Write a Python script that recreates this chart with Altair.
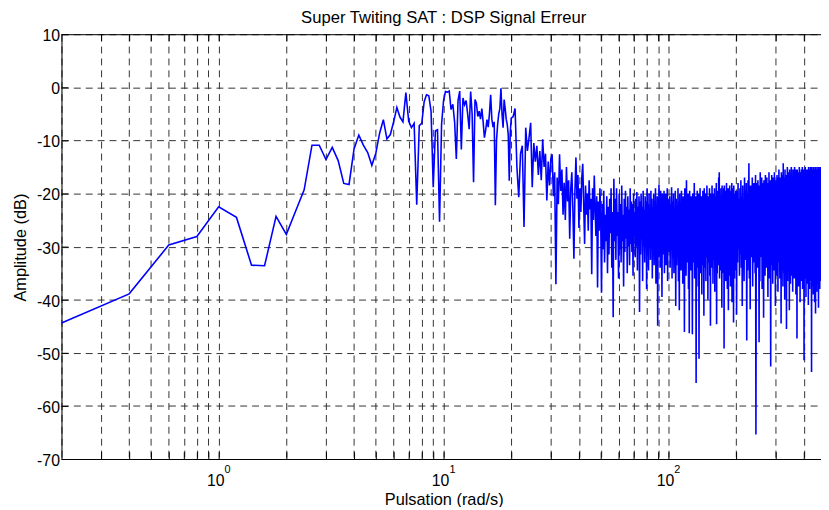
import altair as alt
import pandas as pd

# ---------------- data ----------------
# segment A: 0.2 .. 10.0 rad/s, step 0.2
seg_a_start, seg_a_step = 0.2, 0.2
seg_a_db = [-44.4, -38.9, -29.7, -28.1, -22.5, -24.5, -33.5, -33.6, -24.3, -27.7,
            -23.3, -19.3, -10.9, -10.9, -13.6, -11.3, -13.8, -18.1, -18.3, -11.6,
            -9.0, -10.9, -12.3, -14.7, -12.4, -8.6, -6.1, -9.7, -8.9, -6.5,
            -3.8, -5.6, -6.5, -1.0, -6.4, -7.6, -6.8, -22.1, -7.2, -6.8,
            -2.7, -1.4, -1.6, -4.5, -18.8, -8.2, -8.0, -25.3, -7.0, -2.5]
# segment B: 10.2 .. 20.0 rad/s, step 0.2
seg_b_start, seg_b_step = 10.2, 0.2
seg_b_db = [-0.8, -0.9, -0.7, -4.2, -3.2, -6.5, -13.5, -2.5, -0.7, -11.7,
            -2.0, -3.3, -2.5, -5.0, -7.9, -0.8, -5.0, -17.9, -2.3, -3.0,
            -5.5, -4.5, -6.0, -4.0, -6.5, -9.5, -8.0, -6.1, -7.5, -5.0,
            -1.4, -6.0, -7.5, -6.5, -22.2, -10.0, -7.0, -5.0, -4.0, -0.2,
            -5.0, -7.6, -2.3, -4.0, -6.0, -7.0, -9.0, -17.6, -8.5, -5.8]
# segment C: 20.4 .. 50.0 rad/s, step 0.4
seg_c_start, seg_c_step = 20.4, 0.4
seg_c_db = [-5.5, -4.0, -15.1, -20.7, -12.5, -11.0, -26.3, -7.6, -12.0, -9.5,
            -6.7, -18.8, -10.5, -14.0, -11.0, -16.5, -12.0, -17.5, -9.8, -15.0,
            -12.5, -21.3, -14.0, -18.5, -13.5, -12.6, -20.5, -16.0, -37.1, -17.0,
            -22.0, -12.6, -19.5, -15.5, -24.0, -18.0, -25.0, -15.0, -21.5, -17.5,
            -28.5, -19.0, -16.0, -23.0, -32.3, -19.5, -13.2, -21.0, -16.5, -26.5,
            -19.0, -23.5, -17.0, -14.4, -22.0, -29.5, -18.5, -24.0, -20.0, -27.0,
            -17.5, -23.0, -21.0, -35.2, -19.0, -25.0, -16.6, -22.5, -28.0, -20.5,
            -37.7, -21.5, -27.0, -19.0, -24.5]
# segment D: 50.4 .. 100.4 rad/s, step 0.4
seg_d_start, seg_d_step = 50.4, 0.4
seg_d_db = [-38.7, -22.0, -30.5, -19.5, -33.0, -24.0, -29.0, -20.5, -35.0, -22.5,
            -31.5, -21.0, -27.5, -19.0, -34.0, -23.5, -43.3, -17.2, -29.0, -21.0,
            -32.5, -19.0, -28.0, -23.5, -36.0, -20.0, -30.5, -22.0, -33.0, -18.5,
            -29.0, -24.0, -37.5, -21.0, -31.0, -19.5, -28.5, -22.5, -35.0, -20.5,
            -30.0, -23.0, -33.5, -19.0, -29.5, -21.5, -31.0, -22.0, -35.5, -20.0,
            -28.0, -23.5, -32.0, -21.0, -30.0, -19.7, -34.5, -22.5, -29.0, -20.5,
            -42.3, -21.5, -31.5, -20.0, -28.5, -22.5, -36.5, -19.5, -30.0, -23.0,
            -33.0, -20.5, -29.5, -21.5, -38.0, -19.0, -31.0, -22.0, -34.5, -20.0,
            -28.5, -23.5, -32.5, -19.5, -30.0, -21.0, -36.0, -22.5, -29.0, -20.0,
            -33.5, -21.5, -31.0, -19.0, -37.0, -22.0, -29.5, -20.5, -44.9, -21.0,
            -32.0, -18.3, -30.5, -22.5, -34.0, -19.5, -29.0, -21.5, -39.5, -20.0,
            -31.5, -23.0, -28.5, -19.5, -35.0, -21.5, -30.0, -20.0, -33.5, -22.0,
            -29.5, -19.0, -36.5, -21.0, -31.0, -22.5]
# segment E: 100.8 .. 200.3 rad/s, step 0.5
seg_e_start, seg_e_step = 100.8, 0.5
seg_e_db = [-31.0, -20.5, -34.0, -22.0, -29.5, -18.8, -36.0, -21.5, -32.0, -20.0,
            -35.0, -23.0, -30.5, -19.5, -41.2, -21.0, -33.5, -22.5, -30.0, -19.0,
            -36.5, -21.5, -42.0, -20.0, -31.5, -23.5, -34.5, -19.5, -29.5, -21.0,
            -37.0, -20.5, -32.0, -22.0, -46.1, -19.0, -30.5, -21.5, -35.5, -17.5,
            -31.0, -22.5, -33.0, -20.0, -38.0, -21.0, -46.3, -19.5, -30.0, -22.0,
            -34.5, -20.5, -31.5, -23.0, -46.5, -20.0, -33.0, -21.5, -29.5, -18.0,
            -36.0, -22.0, -31.0, -20.5, -55.7, -21.0, -34.0, -19.5, -30.5, -22.5,
            -37.5, -20.0, -51.1, -21.5, -32.5, -19.0, -35.0, -22.0, -30.0, -20.5,
            -39.0, -21.0, -33.5, -19.5, -31.0, -22.5, -43.0, -19.0, -34.0, -21.5,
            -30.5, -20.0, -36.5, -22.0, -32.0, -18.5, -29.5, -21.0, -40.0, -20.5,
            -33.0, -22.5, -30.5, -19.0, -35.5, -21.5, -44.9, -20.0, -31.5, -22.0,
            -34.0, -18.5, -30.0, -21.0, -37.0, -20.0, -32.5, -22.5, -29.0, -19.0,
            -38.5, -21.5, -33.0, -20.5, -30.5, -18.0, -44.6, -21.0, -35.0, -19.5,
            -31.0, -22.0, -33.5, -17.0, -29.5, -16.0, -36.0, -20.5, -31.5, -22.0,
            -34.5, -19.0, -30.0, -21.5, -41.5, -18.5, -32.5, -20.5, -35.0, -22.0,
            -29.5, -19.0, -49.2, -18.5, -33.5, -21.0, -30.5, -19.5, -36.5, -22.5,
            -31.0, -18.0, -34.0, -20.5, -38.0, -21.5, -30.0, -19.0, -42.0, -20.0,
            -32.5, -22.0, -35.5, -18.5, -29.5, -21.0, -37.5, -19.5, -31.0, -22.5,
            -33.5, -18.0, -40.5, -20.5, -30.5, -21.5, -34.0, -19.0, -44.3, -18.5,
            -31.5, -21.0, -36.0, -20.0, -29.5, -22.0, -34.5, -19.5, -32.0, -20.5]
# segment F: 201 .. 476 rad/s, step 1.0
seg_f_start, seg_f_step = 201.0, 1.0
seg_f_db = [-42.8, -19.5, -33.0, -18.0, -30.5, -21.0, -35.5, -19.0, -31.5, -17.5,
            -34.0, -20.5, -41.2, -18.5, -30.0, -21.5, -36.5, -17.0, -32.5, -19.5,
            -29.5, -18.0, -47.7, -20.0, -34.5, -17.5, -31.0, -14.3, -36.0, -19.0,
            -41.8, -18.5, -32.0, -21.0, -30.5, -17.0, -37.5, -19.5, -33.0, -18.0,
            -29.5, -20.5, -35.0, -16.5, -65.4, -18.0, -31.5, -20.0, -34.0, -17.5,
            -30.0, -19.0, -48.0, -18.5, -36.5, -16.0, -32.0, -20.5, -29.5, -17.0,
            -38.0, -19.5, -33.5, -18.0, -43.4, -17.5, -30.5, -20.0, -35.5, -16.5,
            -31.0, -19.0, -34.0, -17.0, -29.5, -20.5, -39.5, -18.0, -32.5, -16.0,
            -36.0, -19.5, -30.0, -17.5, -52.6, -18.5, -33.5, -16.5, -31.0, -20.0,
            -37.0, -17.0, -29.5, -18.5, -34.5, -16.0, -32.0, -19.0, -41.2, -17.5,
            -30.5, -18.0, -35.5, -16.5, -31.5, -19.5, -38.5, -17.0, -33.0, -15.5,
            -29.5, -18.5, -36.0, -17.0, -32.0, -19.0, -44.5, -16.0, -34.5, -18.0,
            -30.0, -16.5, -37.5, -14.3, -31.0, -18.5, -35.0, -17.0, -40.0, -15.5,
            -32.5, -18.0, -30.0, -16.5, -45.5, -17.5, -33.5, -15.0, -36.5, -19.0,
            -31.0, -16.0, -34.0, -17.5, -42.0, -15.5, -30.5, -18.0, -37.0, -16.5,
            -32.0, -15.0, -35.5, -17.0, -29.5, -18.5, -38.5, -15.5, -33.0, -16.0,
            -31.5, -17.5, -36.0, -15.0, -34.5, -18.0, -30.0, -16.5, -39.0, -15.5,
            -32.5, -17.0, -47.3, -15.5, -35.0, -18.0, -31.0, -16.0, -37.5, -17.0,
            -33.5, -15.0, -30.5, -17.5, -40.5, -16.0, -34.0, -18.0, -31.5, -15.5,
            -36.5, -17.0, -32.0, -15.0, -38.0, -16.5, -30.0, -17.5, -35.0, -15.5,
            -51.4, -16.0, -33.0, -17.5, -36.0, -15.0, -31.5, -16.5, -39.5, -15.5,
            -34.5, -17.0, -30.5, -15.5, -37.0, -16.0, -32.5, -18.0, -41.0, -15.0,
            -35.5, -16.5, -31.0, -15.5, -38.0, -17.0, -33.5, -15.0, -36.5, -16.0,
            -30.5, -17.5, -53.6, -15.0, -34.0, -16.5, -37.5, -15.5, -32.0, -17.0,
            -39.0, -15.0, -35.0, -16.5, -31.5, -15.5, -40.5, -17.0, -33.5, -15.0,
            -42.6, -16.0, -36.0, -15.5, -31.0, -17.0, -38.5, -15.0, -34.5, -16.5,
            -32.0, -15.5, -37.0, -17.0, -41.5, -15.0, -35.0, -16.0, -30.5, -15.5,
            -38.0, -16.5, -33.5, -15.0, -36.5, -16.0]

x_grid_values = [0.2, 0.3, 0.4, 0.5, 0.6, 0.7, 0.8, 0.9,
                 1, 2, 3, 4, 5, 6, 7, 8, 9,
                 10, 20, 30, 40, 50, 60, 70, 80, 90,
                 100, 200, 300, 400]
x_decades = [1, 10, 100]
x_exponents = ["0", "1", "2"]
y_ticks = [-70, -60, -50, -40, -30, -20, -10, 0, 10]

title_text = "Super Twiting SAT : DSP Signal Erreur"
x_title = "Pulsation (rad/s)"
y_title = "Amplitude (dB)"

# ---------------- build table ----------------
segments = [(seg_a_start, seg_a_step, seg_a_db), (seg_b_start, seg_b_step, seg_b_db),
            (seg_c_start, seg_c_step, seg_c_db), (seg_d_start, seg_d_step, seg_d_db),
            (seg_e_start, seg_e_step, seg_e_db), (seg_f_start, seg_f_step, seg_f_db)]
rows = []
for start, step, vals in segments:
    for i, v in enumerate(vals):
        rows.append({"f": round(start + step * i, 3), "db": v})
df = pd.DataFrame(rows)
df["order"] = range(len(df))

W, H = 767, 429
FONT = "Liberation Sans"

xscale = alt.Scale(type="log", domain=[0.2, 477], nice=False)
yscale = alt.Scale(domain=[-70, 10], nice=False, zero=False)

xaxis = alt.Axis(values=x_grid_values, grid=True, gridDash=[7, 5], gridColor="#333333",
                 gridWidth=1, ticks=False, tickSize=0, domain=True, domainColor="black",
                 domainWidth=1,
                 labelExpr="indexof([1,10,100], datum.value) >= 0 ? '10' : ''",
                 labelFont=FONT, labelFontSize=16, labelColor="black",
                 labelPadding=27, labelBaseline="alphabetic", labelOffset=-3.5,
                 labelFlush=False, labelOverlap=False,
                 title=x_title, titleFont=FONT, titleFontSize=16.5, titleFontWeight="normal",
                 titleColor="black", titleX=386, titleY=46, titleBaseline="alphabetic",
                 titleAlign="center")
yaxis = alt.Axis(values=y_ticks, grid=True, gridDash=[7, 5], gridColor="#333333",
                 gridWidth=1, ticks=False, tickSize=0, domain=True, domainColor="black",
                 domainWidth=1, labelExpr="'' + datum.value",
                 labelFont=FONT, labelFontSize=16, labelColor="black",
                 labelPadding=2, labelBaseline="alphabetic", labelOffset=6.5,
                 labelFlush=False, labelOverlap=False,
                 title=y_title, titleFont=FONT, titleFontSize=16.5, titleFontWeight="normal",
                 titleColor="black", titleX=-36, titleY=215, titleAngle=-90,
                 titleBaseline="alphabetic", titleAlign="center")

line = alt.Chart(df).mark_line(color="#0000ff", strokeWidth=1.6, clip=True).encode(
    x=alt.X("f:Q", scale=xscale, axis=xaxis),
    y=alt.Y("db:Q", scale=yscale, axis=yaxis),
    order="order:Q",
)

ydf = pd.DataFrame({"db": y_ticks})
ytick_marks = alt.Chart(ydf).mark_rule(color="black", strokeWidth=1, yOffset=0.5).encode(
    y="db:Q", x=alt.value(0), x2=alt.value(7))

xdf = pd.DataFrame({"f": x_grid_values[1:]})
xtick_bottom = alt.Chart(xdf).mark_rule(color="black", strokeWidth=1, xOffset=0.5).encode(
    x="f:Q", y=alt.value(H), y2=alt.value(H - 7))
xtick_top = alt.Chart(xdf).mark_rule(color="black", strokeWidth=1, xOffset=0.5).encode(
    x="f:Q", y=alt.value(0), y2=alt.value(7))

top_border = alt.Chart(pd.DataFrame({"k": [0]})).mark_rule(
    color="black", strokeWidth=1, yOffset=0.5).encode(
    x=alt.value(0), x2=alt.value(W), y=alt.value(0))

title_mark = alt.Chart(pd.DataFrame({"t": [title_text]})).mark_text(
    font=FONT, fontSize=16.8, color="black", baseline="alphabetic", align="center").encode(
    x=alt.value(386), y=alt.value(-11.3), text="t:N")

edf = pd.DataFrame({"f": x_decades, "db": [-70] * 3, "t": x_exponents})
exps = alt.Chart(edf).mark_text(font=FONT, fontSize=11, color="black", dx=9, dy=14,
                                baseline="alphabetic", align="center").encode(
    x="f:Q", y="db:Q", text="t:N")

chart = alt.layer(line, ytick_marks, xtick_bottom, xtick_top, top_border, exps,
                  title_mark).properties(
    width=W, height=H,
    autosize=alt.AutoSizeParams(type="none"),
    padding={"left": 54, "top": 24, "right": 0, "bottom": 46},
).configure_view(stroke=None).configure(background="white")

chart.save("out.html", embed_options={"renderer": "svg", "actions": False})
